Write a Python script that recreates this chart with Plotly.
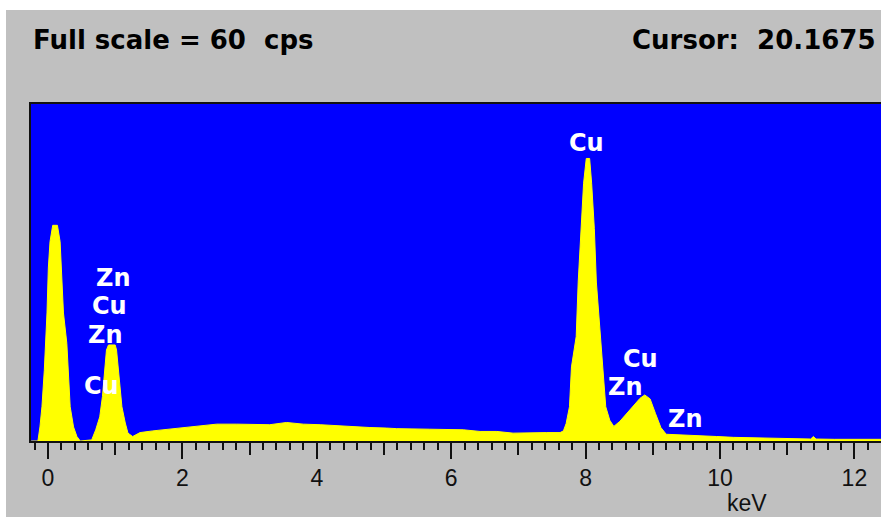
import plotly.graph_objects as go

# EDS spectrum outline: energy (keV) and intensity (cps)
energy_kev = [
    -0.25, -0.15, -0.12, -0.09, -0.055, -0.034, -0.015, 0.005, 0.03, 0.07,
    0.14, 0.18, 0.20, 0.23, 0.28, 0.30, 0.33, 0.38, 0.43, 0.48,
    0.65, 0.71, 0.77, 0.81, 0.85, 0.87, 0.90, 1.00, 1.02, 1.05,
    1.10, 1.15, 1.19, 1.26,
    1.37, 1.56, 1.82, 2.07, 2.31, 2.51, 2.81, 3.05, 3.30, 3.55,
    3.80, 4.05, 4.30, 4.54, 4.79, 5.04, 5.19, 5.68, 6.18, 6.43,
    6.68, 6.92, 7.17, 7.42, 7.62,
    7.67, 7.71, 7.76, 7.79, 7.86, 7.89, 7.93, 7.97, 8.01, 8.06,
    8.09, 8.13, 8.16, 8.22, 8.26, 8.30, 8.36, 8.42,
    8.51, 8.61, 8.71, 8.81, 8.88, 8.96, 9.04, 9.12, 9.20, 9.45,
    9.70, 9.95, 10.2, 10.7, 11.2, 11.35, 11.39, 11.43, 11.7, 12.4,
]
counts_cps = [
    0, 0, 2.5, 6.1, 12.6, 17.4, 22.8, 30.8, 35.5, 38.4,
    38.4, 35.5, 30.8, 22.8, 17.4, 12.6, 6.1, 2.5, 0.8, 0,
    0.2, 2.0, 4.3, 7.9, 12.6, 16.2, 17.1, 17.1, 16.2, 12.6,
    6.1, 3.2, 1.4, 0.8,
    1.5, 1.8, 2.1, 2.4, 2.7, 3.0, 3.0, 3.0, 2.9, 3.3,
    3.0, 2.9, 2.7, 2.5, 2.4, 2.3, 2.2, 2.1, 2.0, 1.7,
    1.7, 1.4, 1.5, 1.5, 1.5,
    1.8, 3.1, 6.1, 13.2, 18.6, 28.3, 37.8, 45.9, 50.3, 50.3,
    45.9, 37.8, 28.3, 18.6, 13.2, 6.1, 3.7, 2.6,
    3.5, 4.9, 6.1, 7.6, 8.2, 7.5, 4.9, 2.4, 1.2, 1.1,
    0.9, 0.8, 0.65, 0.5, 0.35, 0.35, 0.8, 0.35, 0.3, 0.3,
]

# Element line labels (text, energy, height in cps)
label_text = ["Zn", "Cu", "Zn", "Cu", "Cu", "Cu", "Zn", "Zn"]
label_kev = [0.97, 0.91, 0.85, 0.79, 8.01, 8.82, 8.59, 9.49]
label_cps = [29.0, 24.0, 18.9, 9.8, 53.05, 14.6, 9.6, 3.9]

full_scale_cps = 60
cursor_value = "20.1675"
x_range = [-0.253, 12.396]

GRAY = "#c0c0c0"
BLUE = "#0000ff"
YELLOW = "#ffff00"

fig = go.Figure()
fig.add_trace(go.Scatter(
    x=energy_kev, y=counts_cps, mode="lines",
    line=dict(color=YELLOW, width=1),
    fill="tozeroy", fillcolor=YELLOW,
    hoverinfo="skip", showlegend=False,
))
# invisible trace on the overlay axis that carries the 1 keV ticks
fig.add_trace(go.Scatter(x=[x_range[0]], y=[0], xaxis="x2", mode="markers",
                         marker=dict(opacity=0), hoverinfo="skip", showlegend=False))

for t, xk, yc in zip(label_text, label_kev, label_cps):
    fig.add_annotation(x=xk, y=yc, xref="x", yref="y", text=t, showarrow=False,
                       font=dict(family="DejaVu Sans", size=24, color="white", weight="bold"))

fig.add_annotation(x=0, y=1.19, xref="paper", yref="paper", xanchor="left", yanchor="middle",
                   text=f"Full scale = {full_scale_cps}\u00a0\u00a0cps", showarrow=False,
                   font=dict(family="DejaVu Sans", size=26, color="black", weight="bold"))
fig.add_annotation(x=0.705, y=1.19, xref="paper", yref="paper", xanchor="left", yanchor="middle",
                   text=f"Cursor:\u00a0\u00a0{cursor_value}", showarrow=False,
                   font=dict(family="DejaVu Sans", size=26, color="black", weight="bold"))
fig.add_annotation(x=0.842, y=-0.185, xref="paper", yref="paper", xanchor="center", yanchor="middle",
                   text="keV", showarrow=False,
                   font=dict(family="Liberation Sans", size=23, color="#111"))

# white strips along the top and left edges of the page
fig.add_shape(type="rect", xref="paper", yref="paper", x0=-0.05, x1=1.01,
              y0=1.279, y1=1.32, fillcolor="white", line_width=0, layer="above")
fig.add_shape(type="rect", xref="paper", yref="paper", x0=-0.05, x1=-0.0294,
              y0=-0.3, y1=1.32, fillcolor="white", line_width=0, layer="above")

fig.update_layout(
    width=881, height=517, autosize=False,
    margin=dict(l=31, r=0, t=104, b=76, pad=0),
    paper_bgcolor=GRAY, plot_bgcolor=BLUE,
    xaxis=dict(
        range=x_range, showgrid=False, zeroline=False,
        showline=True, linecolor="#111", linewidth=2, mirror=True,
        ticks="outside", tickmode="linear", tick0=0, dtick=2,
        ticklen=16, tickwidth=2, tickcolor="#111",
        ticklabelstandoff=-1,
        tickfont=dict(family="Liberation Sans", size=23, color="#111"),
        minor=dict(ticks="outside", tickmode="linear", tick0=0, dtick=0.2,
                   ticklen=7, tickwidth=2, tickcolor="#111", showgrid=False),
    ),
    xaxis2=dict(
        overlaying="x", matches="x", side="bottom", showgrid=False, zeroline=False,
        showline=False, ticks="outside", tickmode="linear", tick0=0, dtick=1,
        ticklen=13, tickwidth=2, tickcolor="#111", showticklabels=False,
    ),
    yaxis=dict(
        range=[0, full_scale_cps], showgrid=False, zeroline=False,
        showline=True, linecolor="#111", linewidth=2,
        showticklabels=False, ticks="",
    ),
)

fig.write_html("out.html")
